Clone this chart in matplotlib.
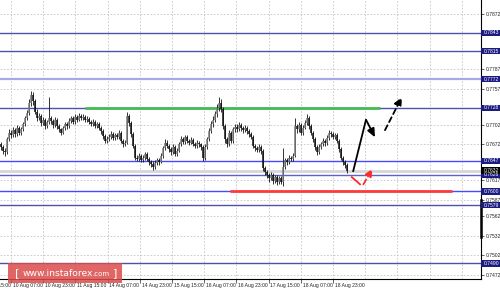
import matplotlib
matplotlib.use("Agg")
import matplotlib.pyplot as plt
from matplotlib.patches import Rectangle
from matplotlib.transforms import blended_transform_factory

# ---------------- data ----------------
CLOSE = [0.7668, 0.7662, 0.7660, 0.7680, 0.7690, 0.7686, 0.7694, 0.7688, 0.7697, 0.7690,
         0.7695, 0.7703, 0.7712, 0.7720, 0.7735, 0.7748, 0.7738, 0.7722, 0.7712, 0.7716,
         0.7705, 0.7710, 0.7700, 0.7706, 0.7712, 0.7708, 0.7702, 0.7710, 0.7700, 0.7695,
         0.7690, 0.7697, 0.7703, 0.7700, 0.7708, 0.7712, 0.7706, 0.7714, 0.7710, 0.7716,
         0.7712, 0.7714, 0.7709, 0.7711, 0.7706, 0.7704, 0.7707, 0.7701, 0.7703, 0.7698,
         0.7692, 0.7685, 0.7678, 0.7681, 0.7684, 0.7688, 0.7682, 0.7687, 0.7684, 0.7690,
         0.7678, 0.7672, 0.7675, 0.7716, 0.7705, 0.7688, 0.7670, 0.7652, 0.7650, 0.7655,
         0.7648, 0.7652, 0.7657, 0.7650, 0.7645, 0.7642, 0.7638, 0.7644, 0.7648, 0.7645,
         0.7655, 0.7666, 0.7675, 0.7670, 0.7665, 0.7660, 0.7668, 0.7658, 0.7662, 0.7672,
         0.7680, 0.7676, 0.7683, 0.7678, 0.7675, 0.7679, 0.7673, 0.7670, 0.7675, 0.7672,
         0.7668, 0.7652, 0.7668, 0.7680, 0.7692, 0.7703, 0.7710, 0.7718, 0.7728, 0.7735,
         0.7727, 0.7700, 0.7680, 0.7672, 0.7690, 0.7678, 0.7695, 0.7699, 0.7695, 0.7702,
         0.7697, 0.7694, 0.7698, 0.7692, 0.7688, 0.7684, 0.7670, 0.7666, 0.7664, 0.7668,
         0.7662, 0.7636, 0.7630, 0.7625, 0.7620, 0.7626, 0.7616, 0.7622, 0.7614, 0.7620,
         0.7615, 0.7638, 0.7648, 0.7645, 0.7652, 0.7650, 0.7655, 0.7700, 0.7695, 0.7702,
         0.7690, 0.7698, 0.7705, 0.7712, 0.7700, 0.7690, 0.7680, 0.7668, 0.7660, 0.7668,
         0.7672, 0.7678, 0.7674, 0.7682, 0.7690, 0.7688, 0.7684, 0.7686, 0.7678, 0.7665,
         0.7652, 0.7645, 0.7640, 0.7632]
HIGH = [0.7676, 0.7671, 0.7666, 0.7684, 0.7696, 0.7694, 0.7699, 0.7698, 0.7702, 0.7700,
        0.7699, 0.7707, 0.7716, 0.7725, 0.7742, 0.7754, 0.7752, 0.7741, 0.7726, 0.7721,
        0.7719, 0.7714, 0.7713, 0.7709, 0.7745, 0.7716, 0.7711, 0.7714, 0.7713, 0.7704,
        0.7698, 0.7701, 0.7707, 0.7706, 0.7712, 0.7716, 0.7715, 0.7718, 0.7717, 0.7720,
        0.7719, 0.7718, 0.7717, 0.7715, 0.7714, 0.7709, 0.7711, 0.7710, 0.7707, 0.7706,
        0.7701, 0.7695, 0.7688, 0.7685, 0.7688, 0.7692, 0.7691, 0.7690, 0.7690, 0.7694,
        0.7693, 0.7681, 0.7679, 0.7722, 0.7719, 0.7708, 0.7691, 0.7673, 0.7656, 0.7659,
        0.7658, 0.7656, 0.7661, 0.7660, 0.7653, 0.7649, 0.7646, 0.7648, 0.7652, 0.7651,
        0.7659, 0.7670, 0.7680, 0.7679, 0.7673, 0.7668, 0.7672, 0.7671, 0.7666, 0.7676,
        0.7685, 0.7683, 0.7687, 0.7686, 0.7681, 0.7683, 0.7682, 0.7676, 0.7679, 0.7678,
        0.7675, 0.7671, 0.7672, 0.7684, 0.7697, 0.7708, 0.7715, 0.7723, 0.7734, 0.7745,
        0.7741, 0.7730, 0.7703, 0.7684, 0.7694, 0.7693, 0.7699, 0.7704, 0.7703, 0.7706,
        0.7705, 0.7700, 0.7702, 0.7701, 0.7695, 0.7691, 0.7687, 0.7673, 0.7670, 0.7672,
        0.7671, 0.7665, 0.7639, 0.7633, 0.7628, 0.7630, 0.7629, 0.7626, 0.7625, 0.7624,
        0.7623, 0.7667, 0.7652, 0.7651, 0.7656, 0.7655, 0.7659, 0.7712, 0.7704, 0.7707,
        0.7705, 0.7702, 0.7710, 0.7718, 0.7715, 0.7703, 0.7693, 0.7683, 0.7671, 0.7672,
        0.7676, 0.7682, 0.7681, 0.7686, 0.7694, 0.7693, 0.7691, 0.7690, 0.7689, 0.7681,
        0.7668, 0.7655, 0.7648, 0.7643]
LOW = [0.7664, 0.7658, 0.7655, 0.7658, 0.7677, 0.7682, 0.7683, 0.7684, 0.7685, 0.7686,
       0.7687, 0.7692, 0.7700, 0.7709, 0.7717, 0.7731, 0.7733, 0.7718, 0.7708, 0.7709,
       0.7701, 0.7702, 0.7696, 0.7697, 0.7703, 0.7704, 0.7698, 0.7699, 0.7696, 0.7691,
       0.7686, 0.7688, 0.7694, 0.7696, 0.7698, 0.7705, 0.7703, 0.7704, 0.7707, 0.7708,
       0.7709, 0.7709, 0.7706, 0.7706, 0.7703, 0.7700, 0.7701, 0.7698, 0.7698, 0.7694,
       0.7688, 0.7681, 0.7674, 0.7675, 0.7678, 0.7681, 0.7679, 0.7679, 0.7680, 0.7681,
       0.7675, 0.7668, 0.7669, 0.7673, 0.7701, 0.7684, 0.7666, 0.7648, 0.7646, 0.7647,
       0.7645, 0.7645, 0.7649, 0.7646, 0.7641, 0.7638, 0.7633, 0.7635, 0.7641, 0.7641,
       0.7643, 0.7652, 0.7663, 0.7666, 0.7661, 0.7656, 0.7657, 0.7654, 0.7655, 0.7660,
       0.7669, 0.7672, 0.7673, 0.7674, 0.7671, 0.7672, 0.7670, 0.7666, 0.7667, 0.7668,
       0.7664, 0.7646, 0.7649, 0.7665, 0.7677, 0.7689, 0.7699, 0.7706, 0.7714, 0.7724,
       0.7722, 0.7696, 0.7675, 0.7668, 0.7669, 0.7674, 0.7675, 0.7691, 0.7691, 0.7692,
       0.7693, 0.7690, 0.7691, 0.7688, 0.7684, 0.7680, 0.7666, 0.7662, 0.7660, 0.7661,
       0.7658, 0.7632, 0.7626, 0.7620, 0.7615, 0.7617, 0.7612, 0.7613, 0.7610, 0.7611,
       0.7611, 0.7609, 0.7635, 0.7641, 0.7642, 0.7646, 0.7647, 0.7653, 0.7690, 0.7691,
       0.7686, 0.7687, 0.7695, 0.7702, 0.7696, 0.7686, 0.7676, 0.7664, 0.7656, 0.7657,
       0.7665, 0.7669, 0.7670, 0.7671, 0.7679, 0.7684, 0.7680, 0.7681, 0.7674, 0.7661,
       0.7648, 0.7641, 0.7636, 0.7628]
FIRST_OPEN = 0.7672
OPEN = [FIRST_OPEN] + CLOSE[:-1]

Y_TICKS = [0.7872, 0.7787, 0.7757, 0.7702, 0.7672, 0.7617, 0.7587, 0.7562, 0.7532, 0.7502, 0.7472]
Y_TOP_LABEL = 0.7901
LEVELS = [0.7843, 0.7815, 0.7772, 0.7728, 0.7647, 0.7626, 0.7600, 0.7579, 0.7490]
LEVEL_COLORS = ['#5050a8', '#5050a8', '#a8a8e6', '#5050a8', '#4848ff',
                '#6060c8', '#4848ff', '#5050a8', '#5050a8']
LEVEL_WIDTHS = [1.0, 1.0, 1.6, 1.0, 1.0, 1.0, 1.0, 1.0, 1.0]
CURRENT_PRICE = 0.7632

X_LABELS = ["09 Aug 15:00", "10 Aug 07:00", "10 Aug 23:00", "11 Aug 15:00", "14 Aug 07:00",
            "14 Aug 23:00", "15 Aug 15:00", "16 Aug 07:00", "16 Aug 23:00", "17 Aug 15:00",
            "18 Aug 07:00", "18 Aug 23:00"]
X_FIRST = -11.1
X_STEP = 16.1
N_GRID = 16

GREEN_LEVEL, GREEN_SPAN = 0.7728, (42.0, 189.5)
RED_LEVEL, RED_SPAN = 0.7600, (114.5, 225.5)
FC_SOLID_X, FC_SOLID_Y = [176.0, 182.5, 187.0], [0.7630, 0.7710, 0.7683]
FC_DASH_X, FC_DASH_Y = [192.0, 200.5], [0.7694, 0.7745]
RED_DASH_X, RED_DASH_Y = [175.4, 179.5], [0.7622, 0.7611]
RED_ARR_X, RED_ARR_Y = [181.2, 185.8], [0.7611, 0.7635]

# ---------------- figure ----------------
W, H = 500, 289
fig = plt.figure(figsize=(W / 100, H / 100), dpi=100)
fig.patch.set_facecolor('white')
ax = fig.add_axes([0, 1 - 279 / H, 481 / W, 279 / H])
ax.set_facecolor('white')
ax.set_xlim(-0.5, 240)
ax.set_ylim(0.74659, 0.78934)

FONT = 'Liberation Sans'
FS = 3.6

# grid
grid_x = [X_FIRST + X_STEP * k for k in range(1, N_GRID)]
for gx in grid_x:
    ax.axvline(gx, color='#c4c4c4', lw=0.6, ls=(0, (2, 2)), zorder=0)
for gy in Y_TICKS + LEVELS:
    ax.axhline(gy, color='#c4c4c4', lw=0.6, ls=(0, (2, 2)), zorder=0)

# bid line
ax.axhline(CURRENT_PRICE, color='#d6d6d6', lw=2.0, zorder=1)
# levels
for lv, c, lw in zip(LEVELS, LEVEL_COLORS, LEVEL_WIDTHS):
    ax.axhline(lv, color=c, lw=lw, zorder=2)

ax.hlines(GREEN_LEVEL, *GREEN_SPAN, color='#44bb55', lw=2.0, zorder=3)
ax.hlines(RED_LEVEL, *RED_SPAN, color='#ff3a3a', lw=2.0, zorder=3)

# candles
xs = list(range(len(CLOSE)))
ax.vlines(xs, LOW, HIGH, color='#111111', lw=0.6, zorder=4)
for i in xs:
    o, c = OPEN[i], CLOSE[i]
    col = '#7a7a7a' if c >= o else '#111111'
    lo, hi = min(o, c), max(o, c)
    if hi - lo < 0.00008:
        hi = lo + 0.00008
    ax.vlines(i, lo, hi, color=col, lw=1.1, zorder=5)

# forecast arrows
ax.plot(FC_SOLID_X[:2], FC_SOLID_Y[:2], color='black', lw=1.3, zorder=6, solid_capstyle='butt')
ax.annotate('', xy=(FC_SOLID_X[2], FC_SOLID_Y[2]), xytext=(FC_SOLID_X[1], FC_SOLID_Y[1]),
            arrowprops=dict(arrowstyle='-|>,head_length=0.5,head_width=0.22', color='black', lw=1.3,
                            shrinkA=0, shrinkB=0), zorder=6)
ax.annotate('', xy=(FC_DASH_X[1], FC_DASH_Y[1]), xytext=(FC_DASH_X[0], FC_DASH_Y[0]),
            arrowprops=dict(arrowstyle='-|>,head_length=0.5,head_width=0.22', color='black', lw=1.3,
                            ls=(0, (3, 2)), shrinkA=0, shrinkB=0), zorder=6)
ax.plot(RED_DASH_X, RED_DASH_Y, color='#ff2a2a', lw=1.3, zorder=6)
ax.annotate('', xy=(RED_ARR_X[1], RED_ARR_Y[1]), xytext=(RED_ARR_X[0], RED_ARR_Y[0]),
            arrowprops=dict(arrowstyle='-|>,head_length=0.45,head_width=0.2', color='#ff2a2a', lw=1.3,
                            ls=(0, (3, 2)), shrinkA=0, shrinkB=0), zorder=6)

# spines
for s in ['top', 'left']:
    ax.spines[s].set_visible(False)
ax.spines['right'].set_color('black')
ax.spines['bottom'].set_color('black')
ax.spines['right'].set_linewidth(0.8)
ax.spines['bottom'].set_linewidth(0.8)

# y ticks
ax.yaxis.tick_right()
ax.set_yticks(Y_TICKS)
ax.set_yticklabels([f'{v:.4f}' for v in Y_TICKS], fontsize=FS, family=FONT, color='#222222')
ax.tick_params(axis='y', direction='out', length=2, width=0.5, pad=1.2, colors='#222222')

trans = blended_transform_factory(ax.transAxes, ax.transData)
ax.text(1.0 + 3 / 481, Y_TOP_LABEL, f'{Y_TOP_LABEL:.4f}', transform=trans, fontsize=FS,
        family=FONT, va='center', ha='left', color='#222222', clip_on=False)
box_h = 6.5 / 6526
for lv, box in [(l, '#1b1b80') for l in LEVELS] + [(CURRENT_PRICE, '#000000')]:
    ax.add_patch(Rectangle((1.0, lv - box_h / 2), 19.5 / 481, box_h, transform=trans,
                           facecolor=box, edgecolor='none', clip_on=False, zorder=10))
    ax.text(1.0 + 3 / 481, lv, f'{lv:.4f}', transform=trans, fontsize=FS, family=FONT,
            va='center', ha='left', color='white', clip_on=False, zorder=11)
# black marker on the price scale
ax.plot([1.0, 1.0], [0.7587, 0.7530], transform=trans, color='black', lw=1.8,
        clip_on=False, zorder=9)

# x ticks
tick_x = [X_FIRST + X_STEP * k for k in range(1, len(X_LABELS))]
ax.set_xticks(tick_x)
ax.set_xticklabels([])
ax.tick_params(axis='x', direction='out', length=3, width=0.5, colors='#222222')
xtrans = blended_transform_factory(ax.transData, ax.transAxes)
for k, lab in enumerate(X_LABELS):
    ax.text(X_FIRST + X_STEP * k + 0.9, -3.5 / 279, lab, transform=xtrans, fontsize=FS,
            family=FONT, va='top', ha='left', color='#222222', clip_on=False)

# watermark
fig.patches.append(Rectangle((8 / W, 6 / H), 114 / W, 20 / H, transform=fig.transFigure,
                             facecolor='#dc4c4c', edgecolor='none', alpha=0.85, zorder=20))
fig.text(15 / W, 16 / H, '[', fontsize=8, color='white', va='center', ha='left', zorder=21,
         family='DejaVu Sans')
fig.text(23 / W, 16 / H, 'www.instaforex', fontsize=6.6, color='white', va='center', ha='left',
         zorder=21, family='DejaVu Sans')
fig.text(92 / W, 15.5 / H, '.com', fontsize=5.0, color='white', va='center', ha='left', zorder=21,
         family='DejaVu Sans')
fig.text(113 / W, 16 / H, ']', fontsize=8, color='white', va='center', ha='left', zorder=21,
         family='DejaVu Sans')

fig.savefig('out.png', dpi=100)
